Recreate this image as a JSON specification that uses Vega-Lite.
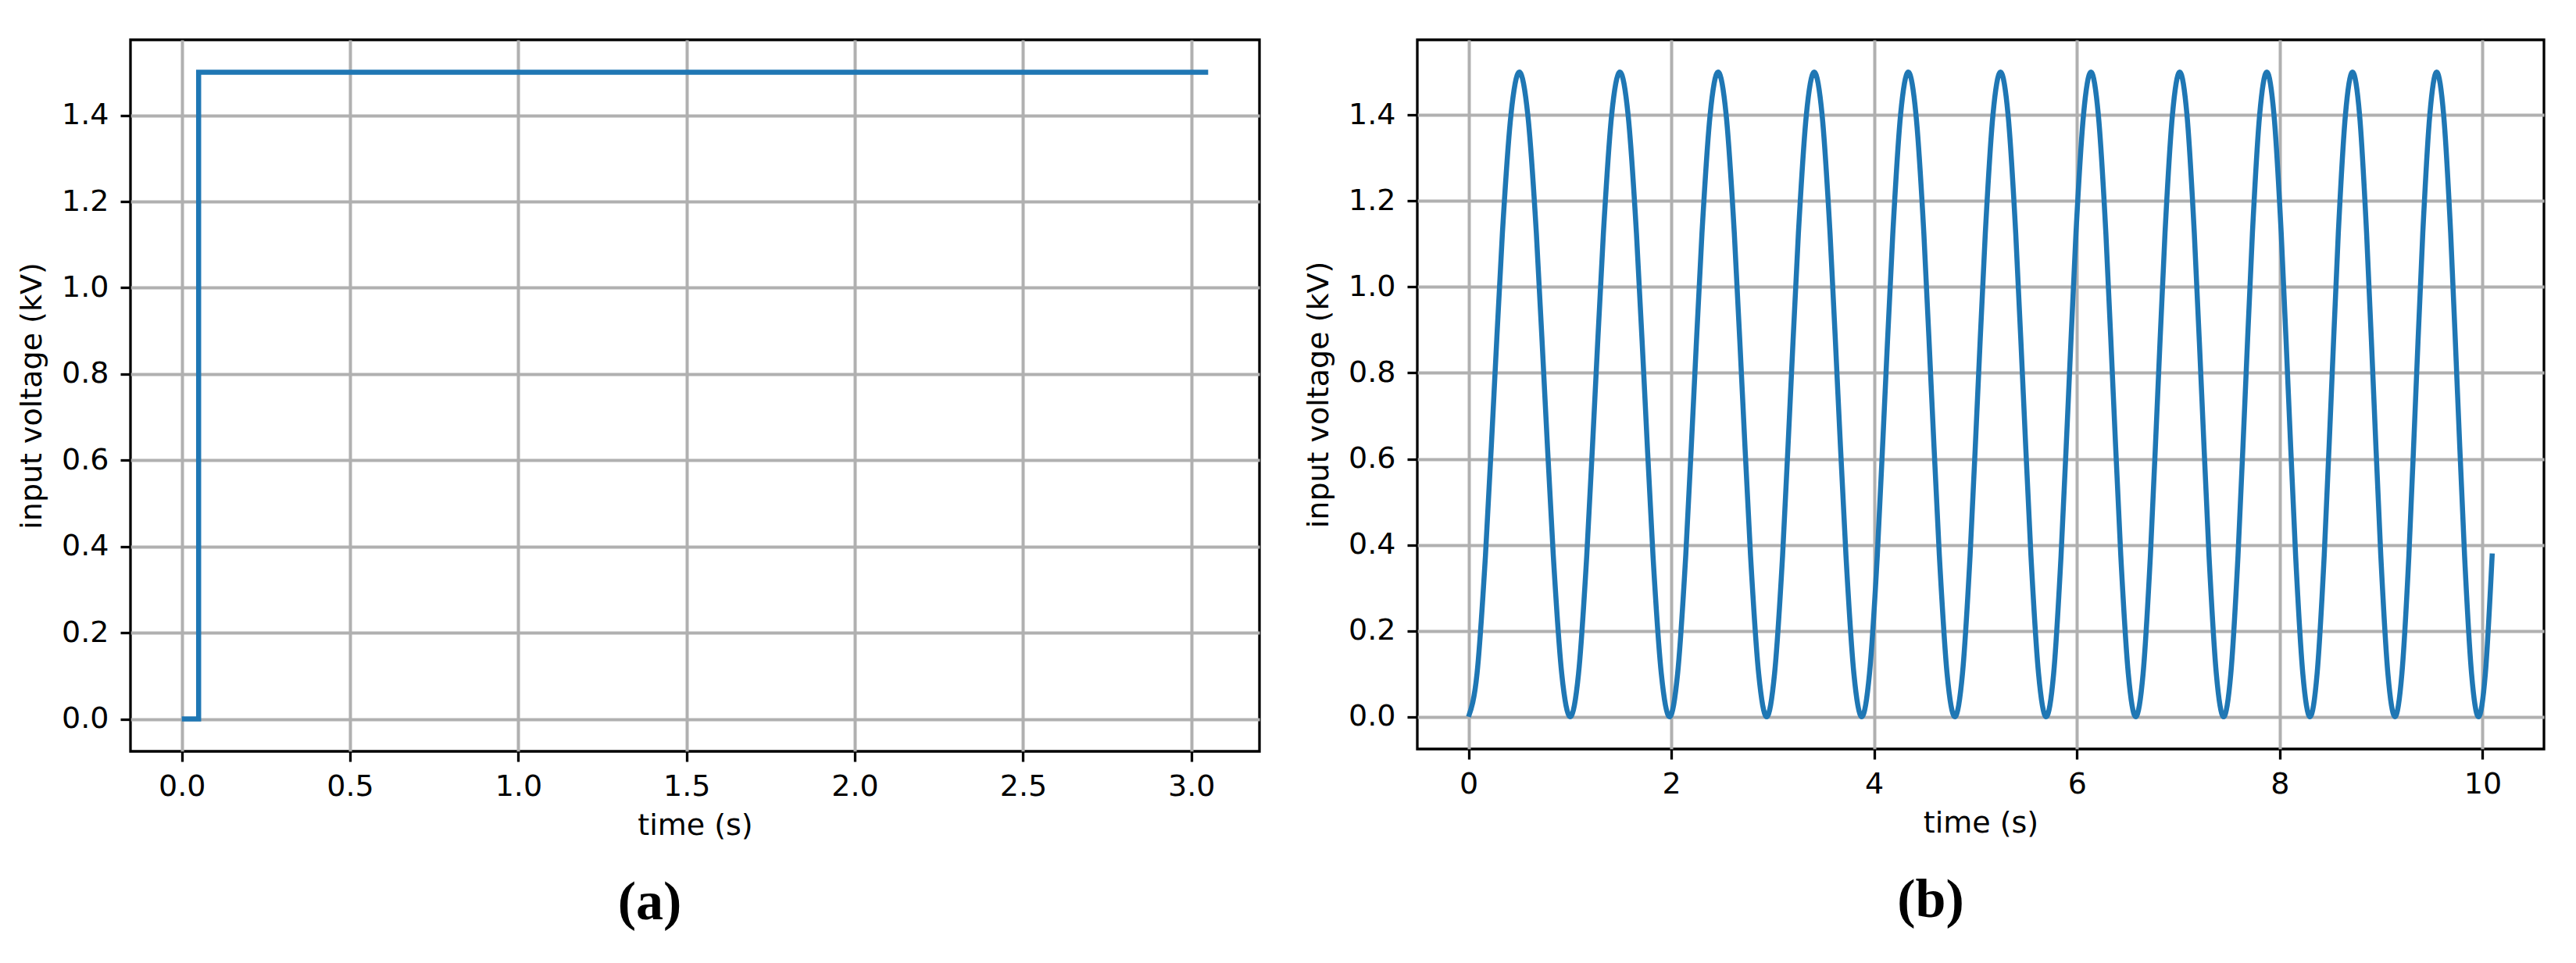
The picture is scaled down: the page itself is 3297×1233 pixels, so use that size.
{
  "$schema": "https://vega.github.io/schema/vega-lite/v6.json",
  "background": "white",
  "padding": {"left": 20, "top": 49, "right": 0, "bottom": 0},
  "spacing": 53,
  "datasets": {
    "step": [
      {"t": 0, "v": 0}, {"t": 0.05, "v": 0}, {"t": 0.05, "v": 1.5}, {"t": 3.05, "v": 1.5}
    ],
    "chirp": [
      {"t": 0, "v": 0}, {"t": 0.084, "v": 0.1005}, {"t": 0.167, "v": 0.375}, {"t": 0.251, "v": 0.75}, {"t": 0.334, "v": 1.125}, {"t": 0.418, "v": 1.3995}, {"t": 0.501, "v": 1.5}, {"t": 0.585, "v": 1.3995}, {"t": 0.669, "v": 1.125}, {"t": 0.752, "v": 0.75}, {"t": 0.836, "v": 0.375}, {"t": 0.919, "v": 0.1005},
      {"t": 1.003, "v": 0}, {"t": 1.085, "v": 0.1005}, {"t": 1.166, "v": 0.375}, {"t": 1.248, "v": 0.75}, {"t": 1.330, "v": 1.125}, {"t": 1.411, "v": 1.3995}, {"t": 1.493, "v": 1.5}, {"t": 1.574, "v": 1.3995}, {"t": 1.656, "v": 1.125}, {"t": 1.738, "v": 0.75}, {"t": 1.819, "v": 0.375}, {"t": 1.901, "v": 0.1005},
      {"t": 1.983, "v": 0}, {"t": 2.062, "v": 0.1005}, {"t": 2.142, "v": 0.375}, {"t": 2.222, "v": 0.75}, {"t": 2.302, "v": 1.125}, {"t": 2.382, "v": 1.3995}, {"t": 2.461, "v": 1.5}, {"t": 2.541, "v": 1.3995}, {"t": 2.621, "v": 1.125}, {"t": 2.701, "v": 0.75}, {"t": 2.781, "v": 0.375}, {"t": 2.861, "v": 0.1005},
      {"t": 2.940, "v": 0}, {"t": 3.018, "v": 0.1005}, {"t": 3.097, "v": 0.375}, {"t": 3.175, "v": 0.75}, {"t": 3.253, "v": 1.125}, {"t": 3.331, "v": 1.3995}, {"t": 3.409, "v": 1.5}, {"t": 3.487, "v": 1.3995}, {"t": 3.565, "v": 1.125}, {"t": 3.643, "v": 0.75}, {"t": 3.722, "v": 0.375}, {"t": 3.800, "v": 0.1005},
      {"t": 3.878, "v": 0}, {"t": 3.954, "v": 0.1005}, {"t": 4.031, "v": 0.375}, {"t": 4.107, "v": 0.75}, {"t": 4.184, "v": 1.125}, {"t": 4.260, "v": 1.3995}, {"t": 4.337, "v": 1.5}, {"t": 4.413, "v": 1.3995}, {"t": 4.490, "v": 1.125}, {"t": 4.566, "v": 0.75}, {"t": 4.643, "v": 0.375}, {"t": 4.719, "v": 0.1005},
      {"t": 4.796, "v": 0}, {"t": 4.871, "v": 0.1005}, {"t": 4.946, "v": 0.375}, {"t": 5.021, "v": 0.75}, {"t": 5.096, "v": 1.125}, {"t": 5.171, "v": 1.3995}, {"t": 5.246, "v": 1.5}, {"t": 5.321, "v": 1.3995}, {"t": 5.396, "v": 1.125}, {"t": 5.471, "v": 0.75}, {"t": 5.546, "v": 0.375}, {"t": 5.621, "v": 0.1005},
      {"t": 5.696, "v": 0}, {"t": 5.770, "v": 0.1005}, {"t": 5.843, "v": 0.375}, {"t": 5.917, "v": 0.75}, {"t": 5.990, "v": 1.125}, {"t": 6.064, "v": 1.3995}, {"t": 6.138, "v": 1.5}, {"t": 6.211, "v": 1.3995}, {"t": 6.285, "v": 1.125}, {"t": 6.358, "v": 0.75}, {"t": 6.432, "v": 0.375}, {"t": 6.506, "v": 0.1005},
      {"t": 6.579, "v": 0}, {"t": 6.652, "v": 0.1005}, {"t": 6.724, "v": 0.375}, {"t": 6.796, "v": 0.75}, {"t": 6.868, "v": 1.125}, {"t": 6.941, "v": 1.3995}, {"t": 7.013, "v": 1.5}, {"t": 7.085, "v": 1.3995}, {"t": 7.157, "v": 1.125}, {"t": 7.230, "v": 0.75}, {"t": 7.302, "v": 0.375}, {"t": 7.374, "v": 0.1005},
      {"t": 7.446, "v": 0}, {"t": 7.517, "v": 0.1005}, {"t": 7.588, "v": 0.375}, {"t": 7.659, "v": 0.75}, {"t": 7.730, "v": 1.125}, {"t": 7.801, "v": 1.3995}, {"t": 7.872, "v": 1.5}, {"t": 7.943, "v": 1.3995}, {"t": 8.014, "v": 1.125}, {"t": 8.085, "v": 0.75}, {"t": 8.156, "v": 0.375}, {"t": 8.227, "v": 0.1005},
      {"t": 8.298, "v": 0}, {"t": 8.368, "v": 0.1005}, {"t": 8.438, "v": 0.375}, {"t": 8.508, "v": 0.75}, {"t": 8.577, "v": 1.125}, {"t": 8.647, "v": 1.3995}, {"t": 8.717, "v": 1.5}, {"t": 8.787, "v": 1.3995}, {"t": 8.856, "v": 1.125}, {"t": 8.926, "v": 0.75}, {"t": 8.996, "v": 0.375}, {"t": 9.066, "v": 0.1005},
      {"t": 9.136, "v": 0}, {"t": 9.204, "v": 0.1005}, {"t": 9.273, "v": 0.375}, {"t": 9.341, "v": 0.75}, {"t": 9.410, "v": 1.125}, {"t": 9.479, "v": 1.3995}, {"t": 9.547, "v": 1.5}, {"t": 9.616, "v": 1.3995}, {"t": 9.685, "v": 1.125}, {"t": 9.753, "v": 0.75}, {"t": 9.822, "v": 0.375}, {"t": 9.891, "v": 0.1005},
      {"t": 9.959, "v": 0}, {"t": 10.027, "v": 0.1005}, {"t": 10.095, "v": 0.38}
    ]
  },
  "config": {
    "view": {"stroke": "black", "strokeWidth": 3.3},
    "font": "DejaVu Sans",
    "axis": {
      "domain": false,
      "grid": true,
      "gridColor": "#b0b0b0",
      "gridWidth": 4,
      "gridOpacity": 1,
      "tickColor": "black",
      "tickWidth": 3.3,
      "tickSize": 13,
      "labelFont": "DejaVu Sans",
      "labelFontSize": 38,
      "labelColor": "black",
      "titleFont": "DejaVu Sans",
      "titleFontSize": 38,
      "titleFontWeight": "normal",
      "titleColor": "black"
    },
    "axisX": {"labelPadding": 13, "titlePadding": 12},
    "axisY": {"labelPadding": 15, "titlePadding": 18},
    "title": {"orient": "bottom", "font": "Liberation Serif", "fontSize": 70, "fontWeight": "bold", "color": "black", "offset": 46}
  },
  "hconcat": [
    {
      "width": 1445,
      "height": 911,
      "data": {"name": "step"},
      "title": {"text": "(a)", "dx": -58},
      "mark": {"type": "line", "color": "#1f77b4", "strokeWidth": 6.5},
      "encoding": {
        "x": {"field": "t", "type": "quantitative", "scale": {"domain": [-0.1525, 3.2025], "nice": false, "zero": false},
              "axis": {"values": [0, 0.5, 1, 1.5, 2, 2.5, 3], "format": ".1f", "title": "time (s)"}},
        "y": {"field": "v", "type": "quantitative", "scale": {"domain": [-0.075, 1.575], "nice": false, "zero": false},
              "axis": {"values": [0, 0.2, 0.4, 0.6, 0.8, 1.0, 1.2, 1.4], "format": ".1f", "title": "input voltage (kV)"}}
      }
    },
    {
      "width": 1442,
      "height": 908,
      "data": {"name": "chirp"},
      "title": {"text": "(b)", "dx": -64},
      "mark": {"type": "line", "color": "#1f77b4", "strokeWidth": 6.5, "interpolate": "monotone"},
      "encoding": {
        "x": {"field": "t", "type": "quantitative", "scale": {"domain": [-0.505, 10.605], "nice": false, "zero": false},
              "axis": {"values": [0, 2, 4, 6, 8, 10], "format": "d", "title": "time (s)"}},
        "y": {"field": "v", "type": "quantitative", "scale": {"domain": [-0.075, 1.575], "nice": false, "zero": false},
              "axis": {"values": [0, 0.2, 0.4, 0.6, 0.8, 1.0, 1.2, 1.4], "format": ".1f", "title": "input voltage (kV)"}}
      }
    }
  ]
}
